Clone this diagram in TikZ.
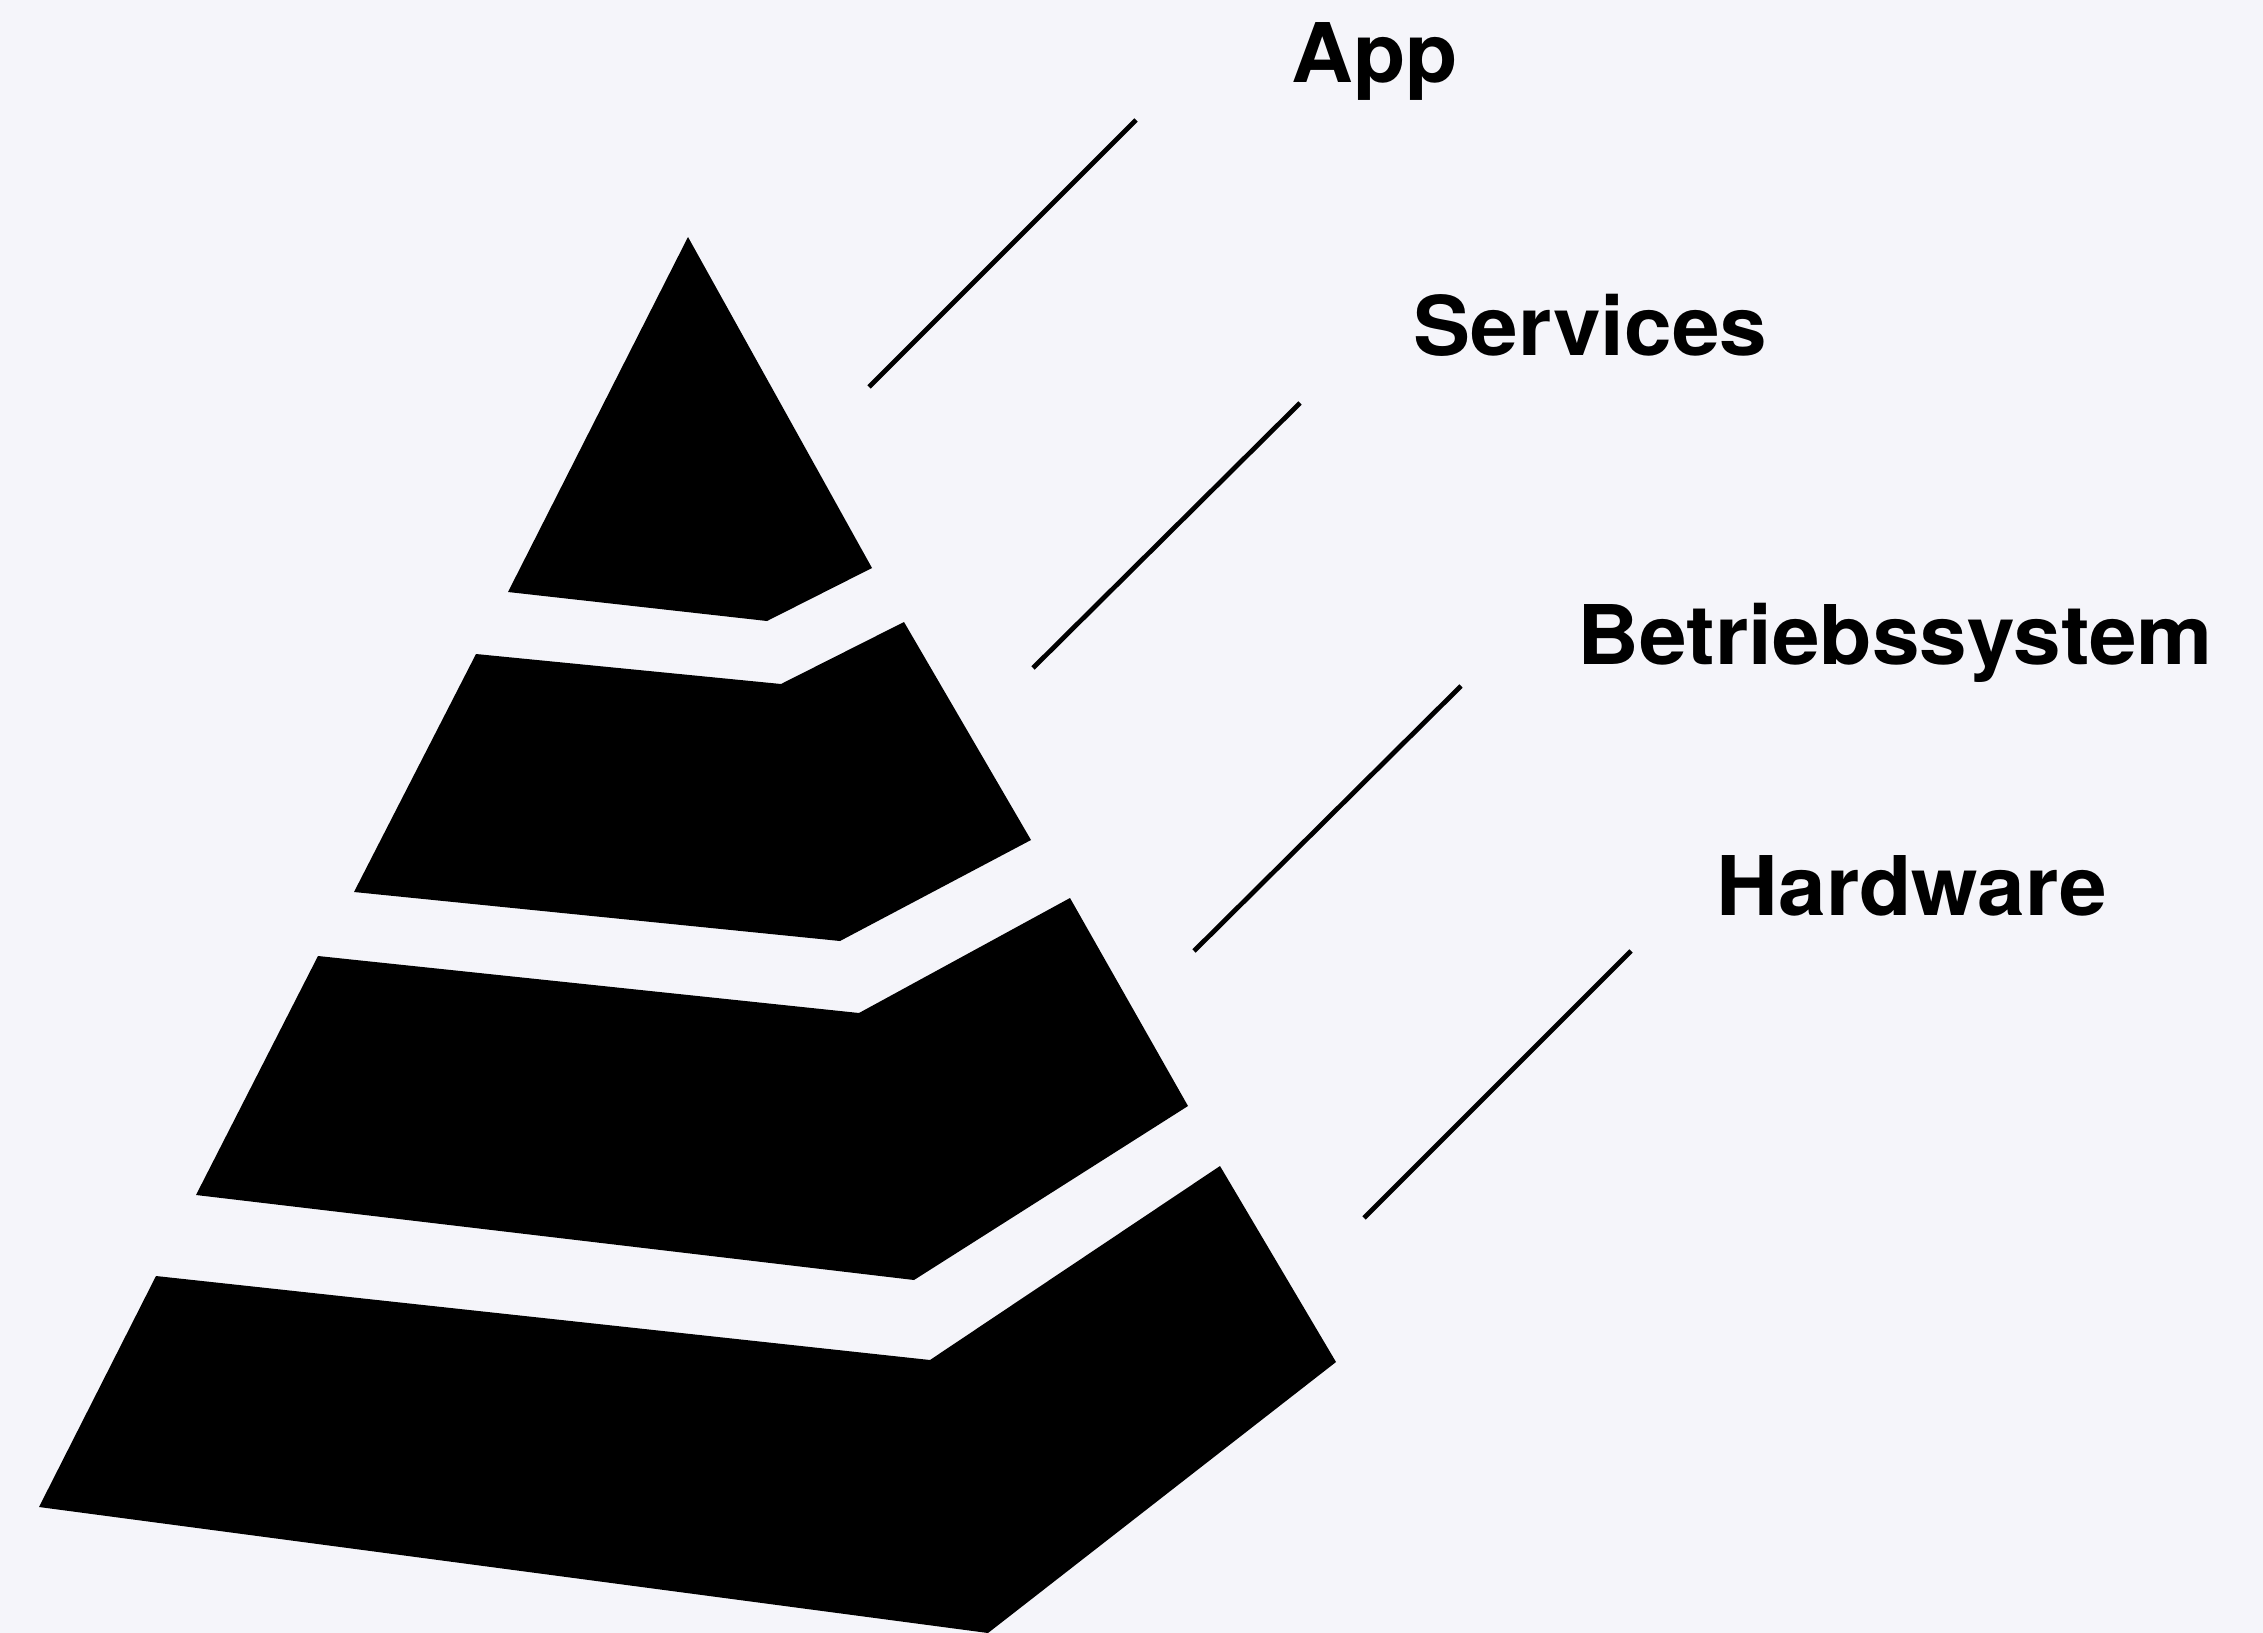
\documentclass[tikz,border=0pt]{standalone}
\usepackage{fontspec}
\setmainfont{TeX Gyre Heros}[FakeStretch=1.04]
\definecolor{paper}{RGB}{245,245,250}
\tikzset{
  layer/.style={fill=black, draw=none},
  leader/.style={draw=black, line width=1.35pt},
  tag/.style={anchor=base west, inner sep=0pt, font=\fontsize{23.4}{28}\selectfont\bfseries}
}
\begin{document}
\begin{tikzpicture}[x=0.01cm, y=-0.01cm]
  % canvas
  \fill[paper] (0,0) rectangle (2263,1633);
  \useasboundingbox (0,0) rectangle (2263,1633);
  \clip (0,0) rectangle (2263,1633);

  % pyramid layers, top to bottom
  \path[layer] (688,237) -- (872,568) -- (767,621) -- (508,592) -- cycle;
  \path[layer] (476,654) -- (781,684) -- (904,622) -- (1031,840) -- (840,941) -- (354,892) -- cycle;
  \path[layer] (318,956) -- (859,1013) -- (1070,898) -- (1188,1106) -- (914,1280) -- (196,1195) -- cycle;
  \path[layer] (156,1276) -- (930,1360) -- (1220,1166) -- (1336,1362) -- (988,1633) -- (39,1507) -- cycle;

  % labels
  \node[tag] (app) at (1291,82) {App};
  \node[tag] (services) at (1413,355) {Services};
  \node[tag] (os) at (1577,664) {Betriebssystem};
  \node[tag] (hw) at (1716,915) {Hardware};

  % leader lines
  \coordinate (l1a) at (869,387);  \coordinate (l1b) at (1136,120);
  \coordinate (l2a) at (1033,668); \coordinate (l2b) at (1300,403);
  \coordinate (l3a) at (1194,951); \coordinate (l3b) at (1461,686);
  \coordinate (l4a) at (1364,1218); \coordinate (l4b) at (1631,951);
  \draw[leader] (l1a) -- (l1b);
  \draw[leader] (l2a) -- (l2b);
  \draw[leader] (l3a) -- (l3b);
  \draw[leader] (l4a) -- (l4b);
\end{tikzpicture}
\end{document}
